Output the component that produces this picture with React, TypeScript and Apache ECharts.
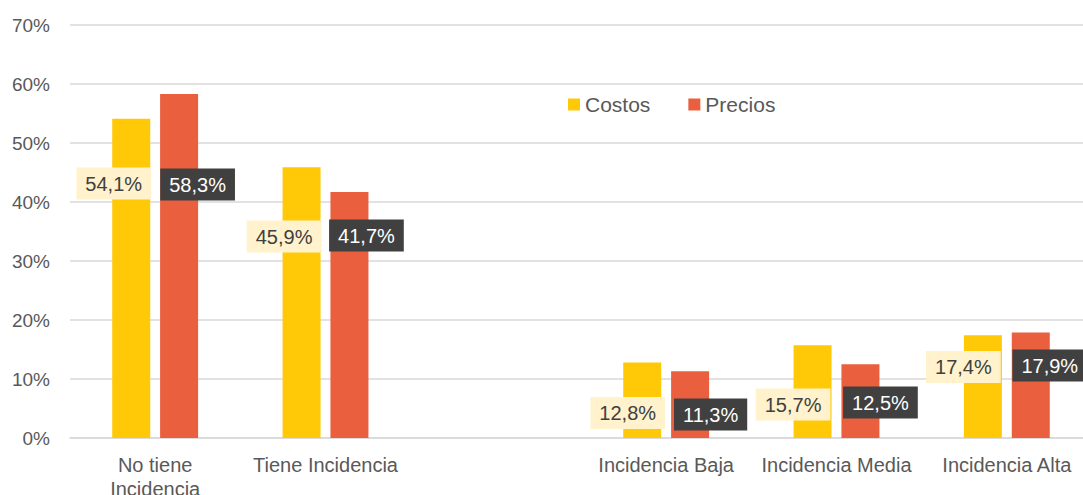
import React, { useEffect, useRef } from "react";
import * as echarts from "echarts";

const categories = [
  "No tiene\nIncidencia",
  "Tiene Incidencia",
  "",
  "Incidencia Baja",
  "Incidencia Media",
  "Incidencia Alta",
];
const costos: (number | null)[] = [54.1, 45.9, null, 12.8, 15.7, 17.4];
const precios: (number | null)[] = [58.3, 41.7, null, 11.3, 12.5, 17.9];
const yMin = 0;
const yMax = 70;
const yStep = 10;

// label placement (style): [dx, dy] from bar bottom-centre
const costosLabelOffsets = [[-17.5, -238.5], [-17.5, -185.5], [0, 0], [-14.5, -9], [-19.5, -17.5], [-19.5, -55]];
const preciosLabelOffsets = [[18.5, -237.5], [17, -186.5], [0, 0], [20.5, -7.5], [20, -19.5], [19, -56.5]];

const FONT = "'Liberation Sans', Arial, sans-serif";
const fmt = (v: number) => v.toFixed(1).replace(".", ",") + "%";

function build(values: (number | null)[], offsets: number[][]) {
  return values.map((v, i) =>
    v == null ? "-" : { value: v, label: { offset: offsets[i] } }
  );
}

export default function App() {
  const ref = useRef<HTMLDivElement>(null);
  useEffect(() => {
    if (!ref.current) return;
    const chart = echarts.init(ref.current, undefined, { renderer: "svg" });
    const baseLabel = {
      show: true,
      position: "insideBottom",
      distance: 0,
      fontSize: 20,
      lineHeight: 20,
      fontFamily: FONT,
      padding: [6, 9],
      formatter: (p: any) => fmt(p.value),
    };
    chart.setOption({
      animation: false,
      textStyle: { fontFamily: FONT },
      grid: {
        left: 70,
        right: -9,
        top: 25,
        bottom: 57,
        containLabel: false,
        outerBoundsMode: "none",
      },
      legend: {
        data: ["Costos", "Precios"],
        left: 563,
        top: 89,
        icon: "rect",
        itemWidth: 12,
        itemHeight: 12,
        itemGap: 38,
        textStyle: { fontSize: 21, color: "#595959", fontFamily: FONT },
      },
      xAxis: {
        type: "category",
        data: categories,
        axisLine: { lineStyle: { color: "#D9D9D9", width: 1.5 } },
        axisTick: { show: false },
        axisLabel: {
          color: "#595959",
          fontSize: 20,
          lineHeight: 24,
          margin: 15,
          interval: 0,
          fontFamily: FONT,
        },
      },
      yAxis: {
        type: "value",
        min: yMin,
        max: yMax,
        interval: yStep,
        axisLine: { show: false },
        axisTick: { show: false },
        splitLine: { lineStyle: { color: "#D9D9D9", width: 1.5 } },
        axisLabel: {
          formatter: "{value}%",
          color: "#595959",
          fontSize: 19,
          margin: 20,
          fontFamily: FONT,
        },
      },
      series: [
        {
          name: "Costos",
          type: "bar",
          barWidth: 38,
          barGap: "26%",
          itemStyle: { color: "#FFC907" },
          label: { ...baseLabel, color: "#404040", backgroundColor: "#FFF2CC" },
          data: build(costos, costosLabelOffsets),
        },
        {
          name: "Precios",
          type: "bar",
          barWidth: 38,
          barGap: "26%",
          itemStyle: { color: "#EA5F3E" },
          label: { ...baseLabel, color: "#FFFFFF", backgroundColor: "#404040" },
          data: build(precios, preciosLabelOffsets),
        },
      ],
    });
    return () => chart.dispose();
  }, []);
  return (
    <div
      ref={ref}
      style={{ position: "fixed", left: 0, top: 0, width: 1083, height: 495, background: "#fff" }}
    />
  );
}
